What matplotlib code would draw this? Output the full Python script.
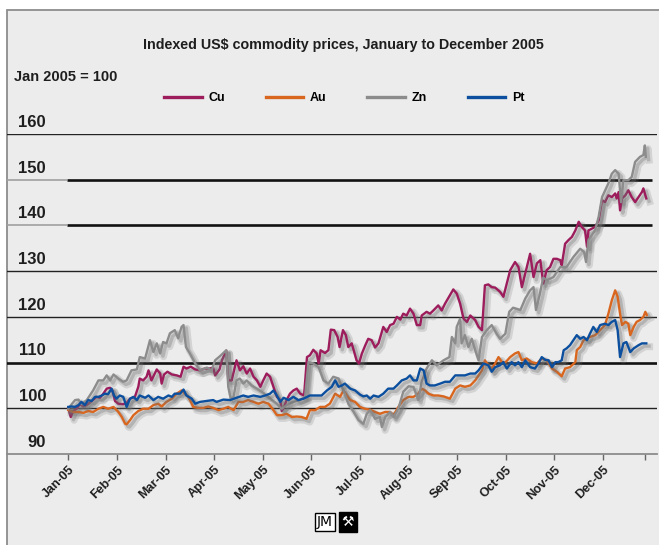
"""
Indexed US$ commodity prices, January to December 2005 (Jan 2005 = 100)
"""
import matplotlib
matplotlib.use('Agg')
import matplotlib.pyplot as plt
import matplotlib.patheffects as pe
from matplotlib.lines import Line2D
from matplotlib.patches import Rectangle

#%% ------------------------------- ###
###             0. Data             ###
### ------------------------------- ###

months = ['Jan-05', 'Feb-05', 'Mar-05', 'Apr-05', 'May-05', 'Jun-05',
          'Jul-05', 'Aug-05', 'Sep-05', 'Oct-05', 'Nov-05', 'Dec-05']
y_levels = [90, 100, 110, 120, 130, 140, 150, 160]

# (months since 1 Jan 2005, index value)
cu = [(0, 100), (0.05, 98.1), (0.1, 99.4), (0.17, 99.9), (0.24, 100.9), (0.31, 100.4), (0.38, 100.7),
      (0.45, 101.3), (0.51, 101.8), (0.58, 102.5), (0.65, 102.3), (0.72, 103.2), (0.79, 104.3), (0.86, 104.5),
      (0.91, 103.8), (0.96, 101.6), (1.03, 101), (1.13, 100.9), (1.2, 101.2), (1.27, 102.1), (1.37, 102.5),
      (1.44, 104.7), (1.47, 106.5), (1.54, 106.1), (1.61, 106.9), (1.65, 108.3), (1.71, 106.1), (1.82, 108.5),
      (1.89, 107.6), (1.92, 105.4), (1.97, 107.4), (2.04, 108), (2.13, 107.4), (2.23, 107.2), (2.31, 106.9),
      (2.37, 109.1), (2.43, 108.7), (2.52, 109.1), (2.61, 108.5), (2.71, 108.3), (2.81, 108.7), (2.91, 108.7),
      (2.98, 108.9), (3.02, 107.2), (3.11, 108.5), (3.16, 110.5), (3.25, 112.6), (3.29, 106.1), (3.36, 106.1),
      (3.46, 110.5), (3.53, 108.3), (3.6, 109.2), (3.67, 107.6), (3.74, 108.7), (3.81, 106.9), (3.88, 106.1),
      (3.95, 104.7), (4.01, 106.1), (4.08, 107.6), (4.15, 106.9), (4.22, 104.7), (4.29, 102.5), (4.36, 101.8),
      (4.39, 99.4), (4.44, 100.3), (4.49, 101.8), (4.56, 103.2), (4.63, 103.9), (4.7, 104.3), (4.77, 103.2),
      (4.85, 102.8), (4.91, 111.2), (4.97, 111.6), (5.04, 112.8), (5.11, 112), (5.15, 109.8), (5.19, 112.7),
      (5.28, 112.1), (5.35, 112.7), (5.4, 117.2), (5.47, 117.1), (5.54, 115.6), (5.58, 113.4), (5.65, 117.1),
      (5.71, 116), (5.76, 113.4), (5.83, 114.2), (5.93, 110.5), (5.98, 109.8), (6.04, 112), (6.11, 113.8),
      (6.17, 115.2), (6.24, 114.9), (6.31, 113.3), (6.38, 114.2), (6.48, 117.8), (6.55, 116.7), (6.62, 118.2),
      (6.69, 118.5), (6.76, 120), (6.83, 119.4), (6.89, 120.7), (6.96, 120.3), (7.03, 121.8), (7.1, 120.7),
      (7.17, 118.2), (7.24, 118.2), (7.27, 120.3), (7.37, 121.1), (7.44, 120.7), (7.51, 121.4), (7.61, 122.5),
      (7.68, 121.4), (7.75, 122.9), (7.85, 124.7), (7.92, 126), (7.99, 125.1), (8.06, 122.9), (8.13, 119.6),
      (8.2, 118.9), (8.27, 120.3), (8.37, 119.3), (8.44, 117.8), (8.51, 117.1), (8.57, 126.9), (8.64, 127.1),
      (8.71, 126.5), (8.78, 126.4), (8.88, 125.5), (8.95, 124.4), (9.02, 127.3), (9.09, 130.2), (9.19, 132),
      (9.26, 130.9), (9.33, 126.5), (9.4, 129.5), (9.5, 133.8), (9.57, 128.7), (9.64, 131.7), (9.71, 132.4),
      (9.77, 127.3), (9.84, 130.2), (9.91, 130.9), (9.98, 132.7), (10.05, 132.7), (10.12, 132.4), (10.15, 131.3),
      (10.22, 136), (10.29, 136.8), (10.36, 137.5), (10.43, 138.9), (10.5, 140.8), (10.56, 139.7), (10.63, 138.9),
      (10.67, 135.3), (10.7, 138.9), (10.77, 139.3), (10.84, 139.7), (10.91, 141.1), (10.98, 145.5), (11.04, 145.1),
      (11.11, 146.6), (11.18, 146.2), (11.25, 147), (11.28, 145.9), (11.32, 147.3), (11.35, 143.3), (11.39, 145.9),
      (11.46, 146.6), (11.52, 147.7), (11.59, 146.2), (11.66, 145.1), (11.73, 146.2), (11.8, 147.3), (11.83, 148.1),
      (11.89, 145.9)]

au = [(0, 99.6), (0.1, 99.2), (0.21, 99.2), (0.31, 99), (0.41, 99.4), (0.51, 99.2), (0.62, 99.9), (0.72, 100.3),
      (0.82, 99.9), (0.93, 100.3), (1.03, 99.2), (1.1, 98.1), (1.17, 96.6), (1.2, 96.5), (1.27, 97.4), (1.34, 98.5),
      (1.44, 99.4), (1.54, 99.9), (1.65, 99.9), (1.75, 100.7), (1.85, 101), (1.92, 100.4), (2.02, 101.4),
      (2.13, 102.1), (2.23, 103.2), (2.33, 103.9), (2.4, 103.2), (2.47, 102.5), (2.57, 100.3), (2.67, 100.1),
      (2.78, 100.1), (2.88, 100.4), (2.98, 100.1), (3.09, 99.6), (3.19, 99.9), (3.29, 100.3), (3.4, 99.6),
      (3.5, 101.4), (3.6, 101.4), (3.7, 101.8), (3.81, 101.4), (3.91, 101), (4.01, 101.4), (4.12, 101),
      (4.22, 99.6), (4.29, 98.5), (4.39, 98.5), (4.49, 98.8), (4.6, 98.1), (4.7, 98.2), (4.8, 98.1), (4.9, 97.7),
      (4.97, 99.6), (5.08, 99.6), (5.18, 100.3), (5.28, 100.3), (5.38, 101), (5.49, 103.2), (5.59, 102.5),
      (5.66, 103.9), (5.73, 102.8), (5.8, 101.8), (5.9, 101.4), (6.0, 100.3), (6.1, 99.9), (6.21, 99.7),
      (6.31, 99.2), (6.41, 98.8), (6.52, 99.2), (6.62, 99.2), (6.69, 98.5), (6.79, 100.3), (6.89, 101.8),
      (7.0, 102.5), (7.1, 102.5), (7.2, 103.2), (7.27, 104.3), (7.34, 103.9), (7.41, 103.2), (7.51, 102.8),
      (7.61, 102.8), (7.72, 102.6), (7.85, 102.1), (7.96, 104.3), (8.06, 105), (8.16, 104.7), (8.27, 105),
      (8.37, 106.1), (8.44, 107.2), (8.51, 108.3), (8.57, 110.5), (8.64, 109.4), (8.71, 108.7), (8.78, 109.8),
      (8.85, 111.2), (8.92, 110.1), (8.99, 110), (9.09, 111.2), (9.19, 112), (9.26, 112.3), (9.33, 110.5),
      (9.43, 110.9), (9.53, 110.1), (9.64, 109.8), (9.74, 110.9), (9.84, 110.5), (9.95, 108.7), (10.05, 108),
      (10.15, 107), (10.22, 108.7), (10.32, 109), (10.43, 110.1), (10.46, 112.7), (10.53, 113.4), (10.6, 114.9),
      (10.67, 115.2), (10.73, 115.6), (10.84, 116), (10.94, 117.1), (11.04, 118.2), (11.11, 120.7),
      (11.18, 123.6), (11.25, 125.8), (11.3, 124.4), (11.35, 120.7), (11.39, 118.2), (11.46, 118.9),
      (11.52, 118.5), (11.56, 116), (11.63, 117.8), (11.69, 118.9), (11.76, 119.3), (11.83, 120), (11.87, 121.1),
      (11.9, 120.4)]

zn = [(0, 99.9), (0.07, 100.9), (0.14, 101.8), (0.21, 101.9), (0.27, 100.9), (0.38, 101.8), (0.51, 103.9),
      (0.62, 106.1), (0.72, 106.1), (0.79, 107.2), (0.86, 106.1), (0.93, 107.4), (1.03, 106.5), (1.13, 105.8),
      (1.2, 106.1), (1.3, 108.3), (1.41, 108.5), (1.47, 111.2), (1.58, 110.9), (1.68, 114.9), (1.75, 112.3),
      (1.82, 114.2), (1.89, 112), (1.95, 114.5), (2.02, 114.2), (2.09, 116.4), (2.19, 117.1), (2.26, 115.3),
      (2.33, 117.8), (2.37, 118.2), (2.42, 113.4), (2.5, 112), (2.61, 109.8), (2.71, 108.3), (2.85, 108.9),
      (2.95, 108.3), (3.02, 110.5), (3.12, 111.4), (3.2, 112.2), (3.25, 112.7), (3.29, 104.7), (3.34, 102.1),
      (3.4, 102.5), (3.46, 106.1), (3.53, 106.5), (3.6, 105.4), (3.67, 106.1), (3.77, 105), (3.88, 104.3),
      (3.98, 103.6), (4.08, 102.8), (4.19, 101.8), (4.29, 101), (4.39, 99.9), (4.49, 100.7), (4.63, 101.4),
      (4.77, 101.8), (4.87, 102.5), (4.94, 110.1), (5.04, 109.8), (5.15, 109), (5.25, 106.1), (5.35, 105.4),
      (5.45, 106.9), (5.56, 106.5), (5.66, 103.9), (5.76, 101), (5.87, 99.2), (5.97, 97.4), (6.07, 96.6),
      (6.14, 98.8), (6.21, 99.6), (6.31, 97.7), (6.41, 98.1), (6.45, 95.9), (6.52, 98.1), (6.62, 99.2),
      (6.69, 98.1), (6.79, 99.9), (6.89, 103.6), (7.0, 104.8), (7.1, 104.7), (7.2, 101.8), (7.27, 105.8),
      (7.37, 108.7), (7.48, 110.5), (7.58, 109.4), (7.72, 110.5), (7.84, 111.2), (7.89, 115.6), (7.96, 114.2),
      (7.99, 117.8), (8.06, 119.6), (8.09, 114.2), (8.16, 116), (8.23, 113.4), (8.3, 115.2), (8.37, 112.7),
      (8.44, 110.5), (8.51, 115.6), (8.61, 117.1), (8.71, 118.2), (8.81, 116.3), (8.88, 115.2), (8.99, 116.3),
      (9.07, 121.1), (9.15, 122), (9.3, 121.5), (9.4, 124), (9.5, 125.8), (9.57, 126.5), (9.62, 121.5),
      (9.7, 125), (9.77, 128.6), (9.84, 128), (9.98, 128.7), (10.12, 130.9), (10.25, 130.9), (10.39, 133.1),
      (10.53, 134.9), (10.61, 134.2), (10.65, 132), (10.7, 136.8), (10.84, 139), (10.91, 141.9), (10.98, 146.2),
      (11.11, 149.2), (11.18, 151.3), (11.25, 152.1), (11.32, 151.3), (11.37, 145.1), (11.42, 149.9),
      (11.52, 149.9), (11.59, 150.6), (11.66, 153.9), (11.76, 155), (11.83, 155.4), (11.86, 157.5), (11.88, 155)]

pt = [(0, 100.3), (0.07, 100.4), (0.14, 100.3), (0.21, 100.7), (0.27, 101.4), (0.34, 100.7), (0.41, 101.8),
      (0.48, 101.6), (0.55, 102.5), (0.62, 102.5), (0.69, 102.8), (0.75, 103.2), (0.82, 103.1), (0.89, 104.3),
      (0.94, 102.8), (0.99, 102.1), (1.06, 102.8), (1.13, 102.5), (1.2, 100.3), (1.27, 102.1), (1.34, 102.5),
      (1.41, 101.8), (1.47, 102.8), (1.58, 102.3), (1.65, 102.8), (1.75, 101.8), (1.85, 102.5), (1.95, 102.1),
      (2.06, 102.8), (2.13, 102.5), (2.19, 103.2), (2.3, 103.2), (2.37, 104.1), (2.43, 102.8), (2.54, 102.1),
      (2.61, 101), (2.71, 101.4), (2.85, 101.6), (2.98, 101.8), (3.05, 101.4), (3.19, 101.9), (3.33, 101.8),
      (3.46, 102.3), (3.6, 102.8), (3.7, 102.5), (3.81, 102.8), (3.95, 102.5), (4.05, 102.8), (4.15, 103.2),
      (4.22, 103.9), (4.29, 102.8), (4.36, 101.4), (4.43, 102.3), (4.53, 101.8), (4.63, 102.5), (4.73, 101.8),
      (4.84, 102.1), (4.97, 102.8), (5.11, 102.8), (5.21, 102.8), (5.32, 103.9), (5.42, 104.7), (5.49, 106.1),
      (5.56, 104.7), (5.63, 105), (5.69, 105.4), (5.8, 104.3), (5.9, 103.9), (6.0, 103), (6.07, 102.6),
      (6.14, 102.8), (6.21, 102.1), (6.28, 102.8), (6.38, 102.5), (6.48, 103.2), (6.58, 104.3), (6.69, 104.3),
      (6.76, 105), (6.86, 106.1), (6.96, 106.5), (7.03, 107.2), (7.1, 106.1), (7.17, 106.1), (7.24, 108.7),
      (7.31, 108.3), (7.37, 105.4), (7.44, 105), (7.54, 105), (7.65, 105.4), (7.75, 105.8), (7.85, 105.8),
      (7.96, 107.2), (8.06, 107.2), (8.16, 107.2), (8.27, 107.6), (8.37, 107.6), (8.44, 108.3), (8.54, 109.8),
      (8.64, 109.4), (8.71, 108), (8.78, 109), (8.88, 109.4), (8.95, 110.1), (9.02, 108.7), (9.12, 110.1),
      (9.19, 109.4), (9.26, 110.1), (9.33, 109), (9.4, 110.5), (9.5, 109), (9.6, 108.7), (9.67, 109.8),
      (9.74, 111.2), (9.81, 110.6), (9.88, 110.5), (9.95, 109), (10.02, 110.1), (10.08, 110.1), (10.15, 110.5),
      (10.19, 112.7), (10.25, 113.1), (10.32, 113.8), (10.39, 114.9), (10.46, 116), (10.53, 115.2),
      (10.6, 115.6), (10.67, 114.9), (10.73, 116.3), (10.8, 117.8), (10.87, 116.7), (10.94, 118.2),
      (11.04, 118.5), (11.11, 118.2), (11.18, 118.9), (11.25, 119.3), (11.3, 117.1), (11.35, 111.2),
      (11.42, 114.2), (11.48, 114.5), (11.56, 112.3), (11.63, 113.1), (11.73, 113.8), (11.8, 114.2),
      (11.89, 114.2)]

series = {'Cu': cu, 'Au': au, 'Zn': zn, 'Pt': pt}
colors = {'Cu': '#9c1c5c', 'Au': '#d9661f', 'Zn': '#8c8c8c', 'Pt': '#0b4f9e'}

#%% ------------------------------- ###
###            1. Style             ###
### ------------------------------- ###

W, H = 659, 545
plt.rcParams['font.family'] = ['Liberation Sans', 'DejaVu Sans']
plt.rcParams['font.weight'] = 'bold'

bg = '#ececec'
frame = '#8c8c8c'
ink = '#1e1e1e'

fig = plt.figure(figsize=(W / 100, H / 100), dpi=100, facecolor='white')
fig.patches.append(Rectangle((7 / W, -0.02), 1.0, 1 - 9.5 / H + 0.02, transform=fig.transFigure,
                             facecolor=bg, edgecolor=frame, lw=1.3, zorder=-5))

ax = fig.add_axes([7 / W, 91 / H, 650 / W, 320 / H])
ax.set_facecolor('none')
ax.set_xlim(-1.261, 12.11)
ax.set_ylim(90, 160)

#%% ------------------------------- ###
###           2. Gridlines          ###
### ------------------------------- ###

thin = [100, 120, 130, 160]
thick = [110]
split = [140, 150]
for v in thin:
    ax.axhline(v, color='#222222', lw=1.0, zorder=1)
for v in thick:
    ax.axhline(v, color='#111111', lw=1.9, zorder=1)
for v in split:
    ax.hlines(v, -1.261, -0.03, color='#a0a0a0', lw=1.2, zorder=1)
    ax.hlines(v, -0.03, 12.0, color='#111111', lw=1.9, zorder=1)

for v in y_levels:
    ax.text(0.06, v + 0.9, str(v), transform=ax.get_yaxis_transform(),
            ha='right', va='bottom', fontsize=12, fontweight='bold', color=ink)

#%% ------------------------------- ###
###             3. Lines            ###
### ------------------------------- ###

shadow = [pe.SimpleLineShadow(offset=(2.4, -2.4), shadow_color='#707070', alpha=0.2, linewidth=5),
          pe.SimpleLineShadow(offset=(2.0, -2.0), shadow_color='#707070', alpha=0.32, linewidth=2.4),
          pe.Normal()]

for name, pts in series.items():
    t = [p[0] for p in pts]
    v = [p[1] for p in pts]
    ax.plot(t, v, color=colors[name], lw=1.7, zorder=3, solid_joinstyle='round',
            path_effects=shadow)

#%% ------------------------------- ###
###              4. Axes            ###
### ------------------------------- ###

for s in ['top', 'right', 'left']:
    ax.spines[s].set_visible(False)
ax.spines['bottom'].set_color(frame)
ax.spines['bottom'].set_linewidth(1.3)

ax.set_yticks([])
ax.set_xticks(list(range(len(months))) + [11.87])
ax.set_xticklabels(months + [''], rotation=45, ha='right', rotation_mode='anchor',
                   fontsize=9, fontweight='bold', color=ink)
ax.tick_params(axis='x', direction='out', length=4, width=1, color='#666666', pad=3)

#%% ------------------------------- ###
###         5. Titles/legend        ###
### ------------------------------- ###

fig.text(343 / W, 1 - 45 / H, 'Indexed US$ commodity prices, January to December 2005',
         ha='center', va='center', fontsize=10.3, fontweight='bold', color=ink)
fig.text(14 / W, 1 - 77 / H, 'Jan 2005 = 100', ha='left', va='center',
         fontsize=10.5, fontweight='bold', color=ink)

handles = [Line2D([0], [0], color=colors[n], lw=2.4) for n in series]
fig.legend(handles, list(series), ncol=4, loc='center left', bbox_to_anchor=(164 / W, 1 - 98 / H),
           frameon=False, handlelength=3.0, handletextpad=0.55, columnspacing=3.25,
           borderpad=0, borderaxespad=0, prop={'weight': 'bold', 'size': 9})

# JM logo
fig.text(325 / W, 1 - 522 / H, 'JM', ha='center', va='center', fontsize=10, fontweight='normal',
         family='DejaVu Sans', color='black',
         bbox=dict(boxstyle='square,pad=0.15', facecolor='white', edgecolor='black', lw=1))
fig.text(348 / W, 1 - 522 / H, '\u2692', ha='center', va='center', fontsize=10,
         family='DejaVu Sans', color='white',
         bbox=dict(boxstyle='square,pad=0.2', facecolor='black', edgecolor='black', lw=1))

fig.savefig('out.png', dpi=100, facecolor=fig.get_facecolor())
